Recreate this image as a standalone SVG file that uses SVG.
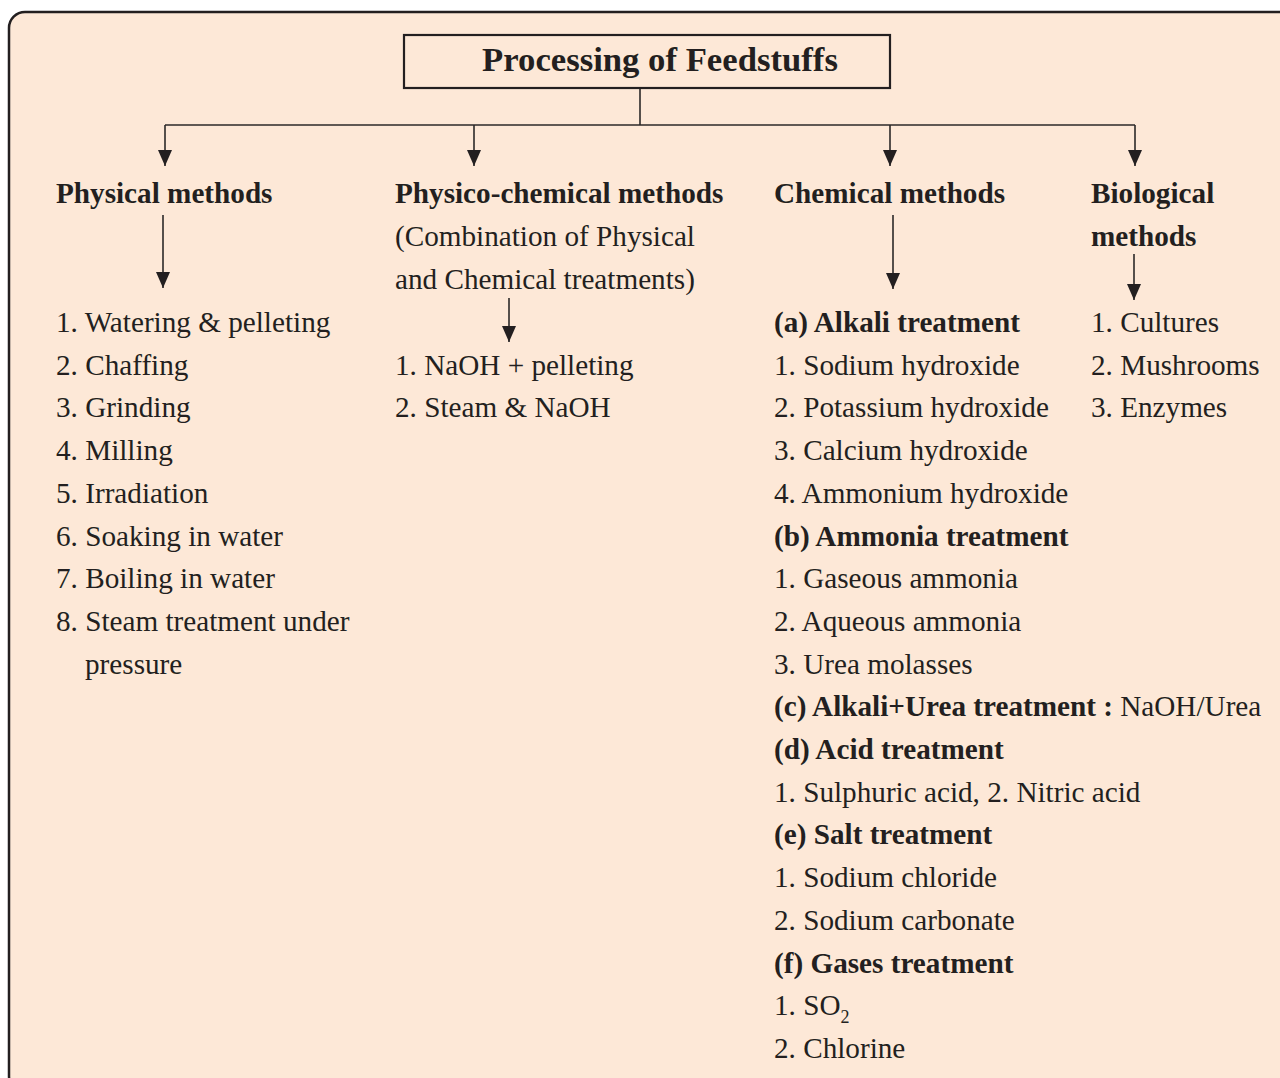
<svg xmlns="http://www.w3.org/2000/svg" width="1280" height="1078" viewBox="0 0 1280 1078">
<defs>
<style>
text{font-family:"Liberation Serif","Times New Roman",serif;fill:#231f20;font-size:29.2px}
.b{font-weight:bold}
.t{font-weight:bold;font-size:34.7px}
.ln{stroke:#2b2828;stroke-width:1.6;fill:none}
.ar{stroke:#2b2828;stroke-width:1.6;fill:none;marker-end:url(#ah)}
</style>
<marker id="ah" markerUnits="userSpaceOnUse" markerWidth="14" markerHeight="16" viewBox="0 0 14 16" refX="7" refY="16" orient="0">
<path d="M0,0 L14,0 L7,16 Z" fill="#231f20"/>
</marker>
</defs>
<rect x="9" y="12" width="1290" height="1080" rx="16" ry="16" fill="#fde8d7" stroke="#231f20" stroke-width="2.5"/>
<g id="connectors">
<path class="ln" d="M640,88 V125"/>
<path class="ln" d="M165,125 H1135"/>
<path class="ar" d="M165,125 V166"/>
<path class="ar" d="M474,125 V166"/>
<path class="ar" d="M890,125 V166"/>
<path class="ar" d="M1135,125 V166"/>
<path class="ar" d="M163,215 V288"/>
<path class="ar" d="M509,298 V342"/>
<path class="ar" d="M893,215 V289"/>
<path class="ar" d="M1134,254 V300"/>
</g>
<g id="root">
<rect x="404" y="35" width="486" height="53" fill="none" stroke="#231f20" stroke-width="2.2"/>
<text class="t" x="660" y="71" text-anchor="middle">Processing of Feedstuffs</text>
</g>
<g id="physical">
<text class="b" x="56" y="203">Physical methods</text>
<text x="56" y="332">1. Watering &amp; pelleting</text>
<text x="56" y="375">2. Chaffing</text>
<text x="56" y="417">3. Grinding</text>
<text x="56" y="460">4. Milling</text>
<text x="56" y="503">5. Irradiation</text>
<text x="56" y="546">6. Soaking in water</text>
<text x="56" y="588">7. Boiling in water</text>
<text x="56" y="631">8. Steam treatment under</text>
<text x="85" y="674">pressure</text>
</g>
<g id="physico-chemical">
<text class="b" x="395" y="203">Physico-chemical methods</text>
<text x="395" y="246">(Combination of Physical</text>
<text x="395" y="289">and Chemical treatments)</text>
<text x="395" y="375">1. NaOH + pelleting</text>
<text x="395" y="417">2. Steam &amp; NaOH</text>
</g>
<g id="chemical">
<text class="b" x="774" y="203">Chemical methods</text>
<text class="b" x="774" y="332">(a) Alkali treatment</text>
<text x="774" y="375">1. Sodium hydroxide</text>
<text x="774" y="417">2. Potassium hydroxide</text>
<text x="774" y="460">3. Calcium hydroxide</text>
<text x="774" y="503">4. Ammonium hydroxide</text>
<text class="b" x="774" y="546">(b) Ammonia treatment</text>
<text x="774" y="588">1. Gaseous ammonia</text>
<text x="774" y="631">2. Aqueous ammonia</text>
<text x="774" y="674">3. Urea molasses</text>
<text x="774" y="716"><tspan class="b">(c) Alkali+Urea treatment :</tspan> NaOH/Urea</text>
<text class="b" x="774" y="759">(d) Acid treatment</text>
<text x="774" y="802">1. Sulphuric acid, 2. Nitric acid</text>
<text class="b" x="774" y="844">(e) Salt treatment</text>
<text x="774" y="887">1. Sodium chloride</text>
<text x="774" y="930">2. Sodium carbonate</text>
<text class="b" x="774" y="973">(f) Gases treatment</text>
<text x="774" y="1015">1. SO<tspan dy="8" font-size="18">2</tspan></text>
<text x="774" y="1058">2. Chlorine</text>
</g>
<g id="biological">
<text class="b" x="1091" y="203">Biological</text>
<text class="b" x="1091" y="246">methods</text>
<text x="1091" y="332">1. Cultures</text>
<text x="1091" y="375">2. Mushrooms</text>
<text x="1091" y="417">3. Enzymes</text>
</g>
</svg>
